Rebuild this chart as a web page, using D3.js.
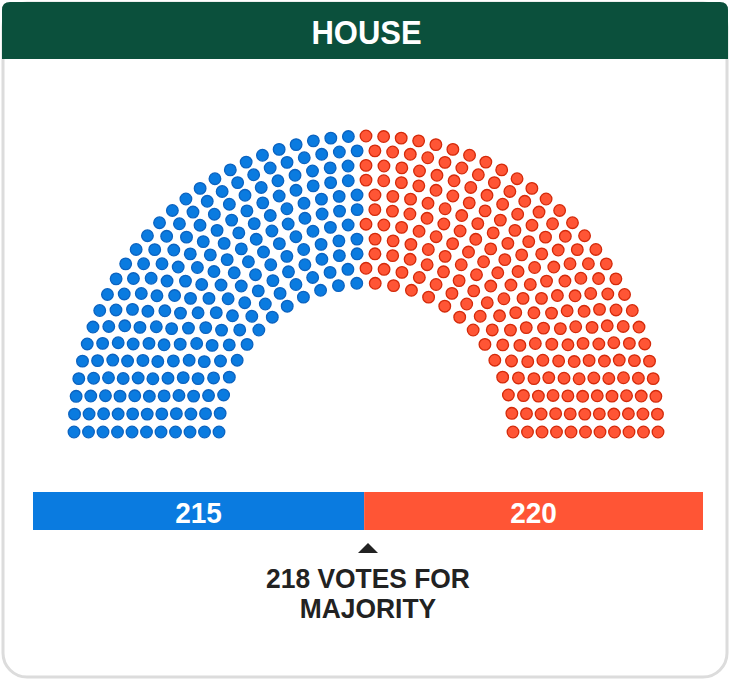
<!DOCTYPE html>
<html>
<head>
<meta charset="utf-8">
<script src="https://cdn.jsdelivr.net/npm/d3@7"></script>
<style>
html,body{margin:0;padding:0;background:#fff;}
svg{display:block;}
</style>
</head>
<body>
<svg id="chart" width="730" height="679"></svg>
<script>
const title = "HOUSE";
const parties = ["Democrats", "Republicans"];
const seats = [215, 220];
const partyColors = ["#0a7be0", "#ff5535"];
const partyStrokes = ["#0b63c0", "#d42a0a"];
const majority = 218;
const majorityLabel = ["218 VOTES FOR", "MAJORITY"];
const rowCount = 11;

const svg = d3.select("#chart");
const W = 730, H = 679;
const font = "'Liberation Sans', Arial, sans-serif";

function stretchedText(x, y, size, sy, color, txt) {
  return svg.append("text")
    .attr("transform", `translate(${x},${y}) scale(1,${sy})`)
    .attr("text-anchor", "middle").attr("font-family", font).attr("font-weight", "bold")
    .attr("font-size", size).attr("fill", color).text(txt);
}

// card
svg.append("rect").attr("x", 3).attr("y", 3).attr("width", W - 6).attr("height", H - 5)
  .attr("rx", 24).attr("fill", "#fff").attr("stroke", "#dcdcdc").attr("stroke-width", 3);
// header
const hx = 2, hy = 2, hw = W - 4, hh = 57, hr = 8;
svg.append("path")
  .attr("d", `M${hx},${hy+hh} L${hx},${hy+hr} Q${hx},${hy} ${hx+hr},${hy} L${hx+hw-hr},${hy} Q${hx+hw},${hy} ${hx+hw},${hy+hr} L${hx+hw},${hy+hh} Z`)
  .attr("fill", "#0b503c");
stretchedText(366.5, 44.3, 31, 1.1, "#fff", title);

// hemicycle
const total = d3.sum(seats);
const cx = 366, cy = 432;
const rInner = 147, rOuter = 292, yStretch = 296 / 292;
const rScale = d3.scaleLinear().domain([0, rowCount - 1]).range([rInner, rOuter]);
const radii = d3.range(rowCount).map(i => rScale(i));
const sumR = d3.sum(radii);
let perRow = radii.map(r => Math.round(total * r / sumR));
let diff = total - d3.sum(perRow);
let k = rowCount - 1;
while (diff !== 0) {
  perRow[k] += diff > 0 ? 1 : -1;
  diff += diff > 0 ? -1 : 1;
  k = (k - 1 + rowCount) % rowCount;
}
let points = [];
radii.forEach((r, i) => {
  const n = perRow[i];
  const a = d3.scaleLinear().domain([0, n - 1]).range([Math.PI, 0]);
  for (let j = 0; j < n; j++) points.push({angle: a(j), r: r});
});
points.sort((p, q) => (q.angle - p.angle) || (p.r - q.r));
const cum = d3.cumsum(seats);
points.forEach((p, i) => { p.party = cum.findIndex(c => i < c); });

svg.append("g").selectAll("circle").data(points).join("circle")
  .attr("cx", d => cx + d.r * Math.cos(d.angle))
  .attr("cy", d => cy - d.r * yStretch * Math.sin(d.angle))
  .attr("r", 5.8)
  .attr("fill", d => partyColors[d.party])
  .attr("stroke", d => partyStrokes[d.party])
  .attr("stroke-width", 1.3);

// bar
const x = d3.scaleLinear().domain([0, total]).range([33, 703]);
const barY = 492, barH = 38;
const starts = [0, ...cum.slice(0, -1)];
seats.forEach((s, i) => {
  svg.append("rect").attr("x", x(starts[i])).attr("y", barY)
    .attr("width", x(starts[i] + s) - x(starts[i])).attr("height", barH)
    .attr("fill", partyColors[i]);
  stretchedText((x(starts[i]) + x(starts[i] + s)) / 2, barY + 31, 28, 1.08, "#fff", s);
});

// majority marker
const mx = x(total / 2);
svg.append("path").attr("d", `M${mx - 10},553 L${mx + 10},553 L${mx},543 Z`).attr("fill", "#222");
majorityLabel.forEach((t, i) => {
  stretchedText(mx, 588.3 + i * 30, 26.4, 1.06, "#222", t);
});
</script>
</body>
</html>
